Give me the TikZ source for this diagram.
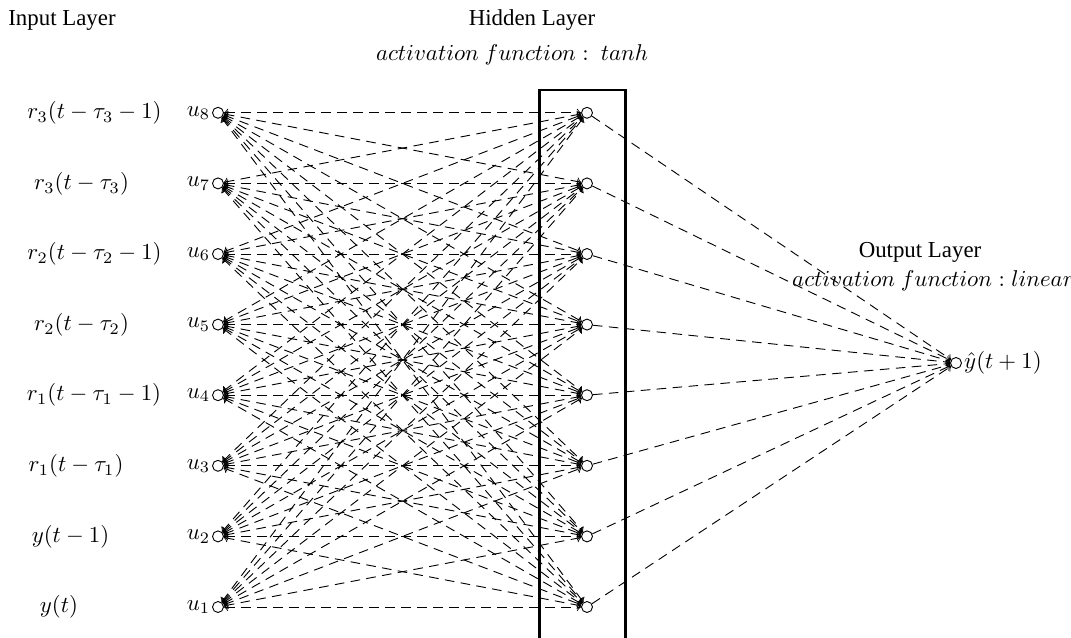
\documentclass[tikz,border=0pt]{standalone}
\usepackage{fontspec}
\setmainfont{Liberation Serif}
\begin{document}
\begin{tikzpicture}[x=0.4375pt,y=-0.4375pt,
  neuron/.style={circle,draw,inner sep=0pt,minimum size=4.8pt},
  conn/.style={dash pattern=on 4.2pt off 2.8pt,<->},
  outconn/.style={dash pattern=on 4.2pt off 2.8pt,->},
  ulbl/.style={inner sep=0pt},
  title/.style={inner sep=0pt},
  boxline/.style={line width=1.3pt}]
\useasboundingbox (0,0) rectangle (1071,638);
% titles
\node[title] (inl) at (62,20) {Input Layer};
\node[title] (hl) at (532,20) {Hidden Layer};
\node[title] (haf) at (512,55) {$activation\ function:\ tanh$};
\node[title] (ol) at (920,252) {Output Layer};
\node[title] (oaf) at (933,281) {$activation\ function : linear$};
% input descriptions
\node[title] (d8) at (94.5,113) {$r_3(t-\tau_3-1)$};
\node[title] (d7) at (81.5,184) {$r_3(t-\tau_3)$};
\node[title] (d6) at (94.5,254) {$r_2(t-\tau_2-1)$};
\node[title] (d5) at (81.5,325) {$r_2(t-\tau_2)$};
\node[title] (d4) at (94,395) {$r_1(t-\tau_1-1)$};
\node[title] (d3) at (76,466) {$r_1(t-\tau_1)$};
\node[title] (d2) at (70.5,537) {$y(t-1)$};
\node[title] (d1) at (59,607) {$y(t)$};
% neurons
\foreach \i in {1,...,8} {
  \pgfmathsetmacro\yy{607-(\i-1)*70.6}
  \node[neuron,label={[ulbl,label distance=0.6pt]left:$u_{\i}$}] (I\i) at (218,\yy) {};
  \node[neuron] (H\i) at (587,\yy) {};
}
\node[neuron,label={[ulbl,label distance=0.8pt]right:$\hat{y}(t+1)$}] (O) at (956,363) {};
% connections
\foreach \i in {1,...,8} {
  \foreach \j in {1,...,8} {
    \draw[conn] (I\i) -- (H\j);
  }
}
\foreach \j in {1,...,8} {
  \draw[outconn] (H\j) -- (O);
}
% hidden layer box
\draw[boxline] (539.5,650) -- (539.5,90) -- (625.5,90) -- (625.5,650);
\end{tikzpicture}
\end{document}
